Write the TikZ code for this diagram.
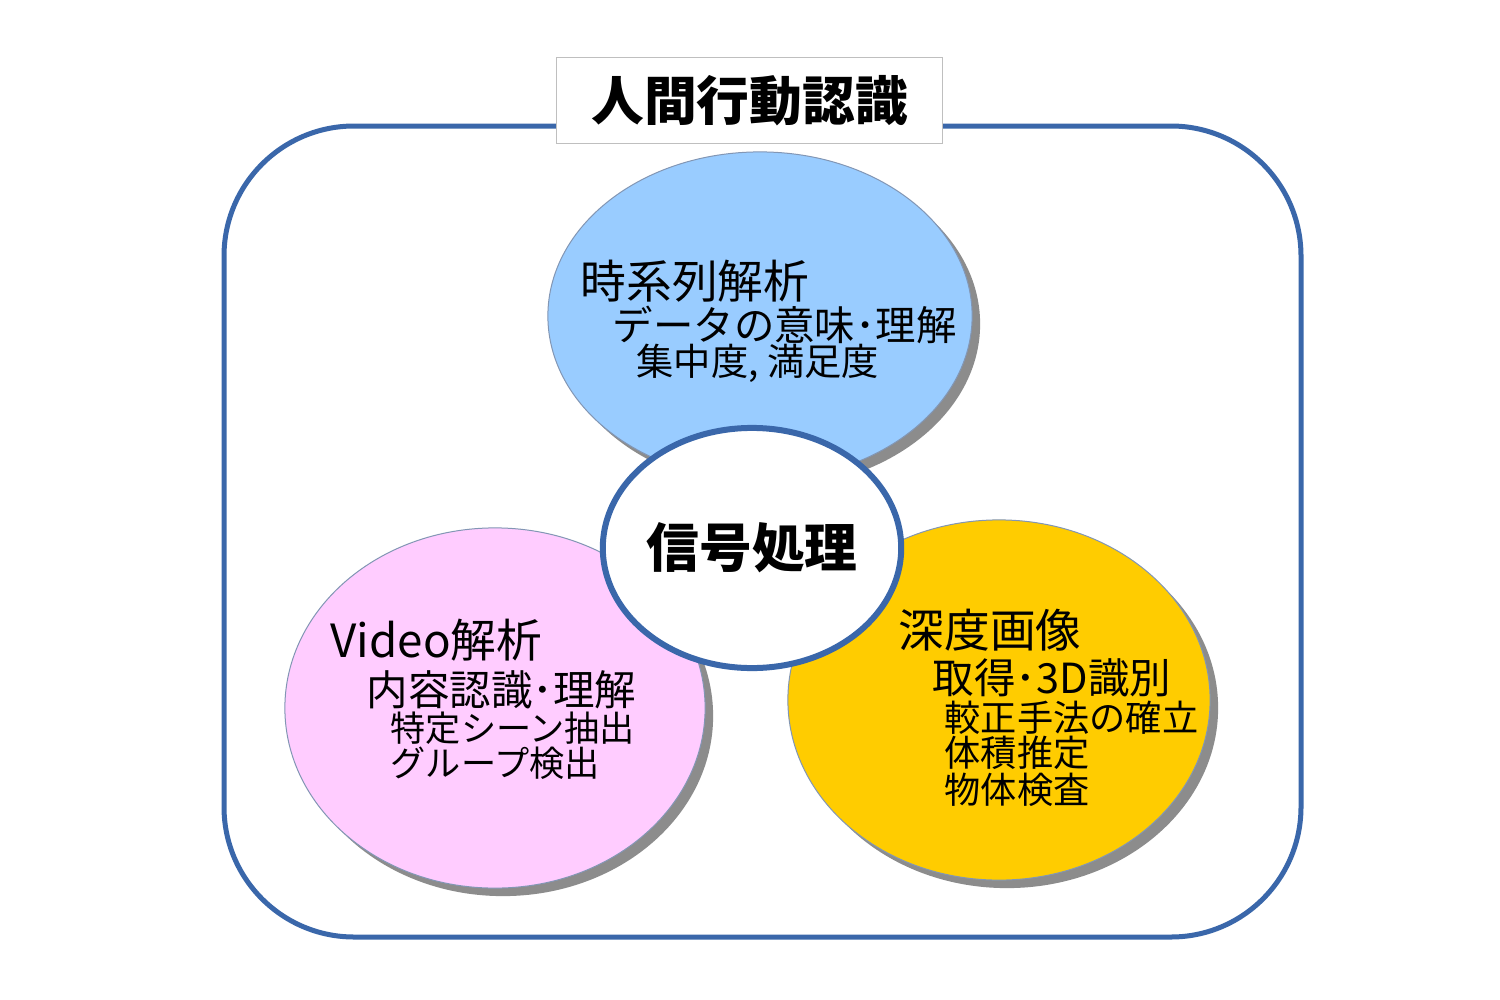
\documentclass[tikz,border=0pt]{standalone}
\usepackage{fontspec}
\newfontfamily\jp{Noto Sans CJK JP}
\usetikzlibrary{shapes.geometric,shadows}
\definecolor{frameblue}{RGB}{58,103,170}
\definecolor{rimgray}{RGB}{130,150,180}
\definecolor{cblue}{RGB}{153,204,255}
\definecolor{cpink}{RGB}{255,204,255}
\definecolor{cyellow}{RGB}{255,204,0}
\tikzset{
  bubble/.style={ellipse, draw=rimgray, line width=0.01cm, inner sep=0pt,
    drop shadow={shadow xshift=0.08cm, shadow yshift=-0.08cm, fill=black!45, opacity=1}},
  txt/.style={anchor=west, inner sep=0pt, font=\jp},
}
\begin{document}
\begin{tikzpicture}[x=0.01cm,y=-0.01cm]
\useasboundingbox (0,0) rectangle (1500,1000);
\fill[white] (0,0) rectangle (1500,1000);
% outer frame
\draw[frameblue, line width=0.05cm, rounded corners=1.3cm] (224,126) rectangle (1301,937);
% title
\node[draw=black!25, fill=white, line width=0.01cm, minimum width=3.85cm, minimum height=0.85cm, inner sep=0pt,
  font=\jp\bfseries\fontsize{15}{18}\selectfont] (title) at (749.5,100.5) {人間行動認識};
% bubbles
\node[bubble, fill=cblue, minimum width=4.24cm, minimum height=3.28cm] (tsa) at (760,316) {};
\node[bubble, fill=cpink, minimum width=4.2cm, minimum height=3.6cm] (vid) at (495,708) {};
\node[bubble, fill=cyellow, minimum width=4.22cm, minimum height=3.6cm] (dep) at (999,700) {};
% centre
\node[ellipse, draw=frameblue, fill=white, line width=0.06cm, minimum width=2.84cm, minimum height=2.4cm, inner sep=0pt,
  font=\jp\bfseries\fontsize{15}{18}\selectfont] (sig) at (752,548) {信号処理};
% blue texts
\node[txt, font=\jp\fontsize{13}{15}\selectfont] (t1) at (580,281) {時系列解析};
\node[txt, font=\jp\fontsize{11.5}{14}\selectfont] (t2) at (612,325) {データの意味･理解};
\node[txt, font=\jp\fontsize{10.6}{13}\selectfont] (t3) at (636,363) {集中度, 満足度};
% pink texts
\node[txt, font=\jp\fontsize{13}{15}\selectfont] (v1) at (330,640) {Video解析};
\node[txt, font=\jp\fontsize{11.8}{14}\selectfont] (v2) at (366,690) {内容認識･理解};
\node[txt, font=\jp\fontsize{10}{12}\selectfont] (v3) at (390,728) {特定シーン抽出};
\node[txt, font=\jp\fontsize{10}{12}\selectfont] (v4) at (390,763) {グループ検出};
% yellow texts
\node[txt, font=\jp\fontsize{13}{15}\selectfont] (d1) at (898,630) {深度画像};
\node[txt, font=\jp\fontsize{11.8}{14}\selectfont] (d2) at (932,678) {取得･3D識別};
\node[txt, font=\jp\fontsize{10.3}{12}\selectfont] (d3) at (944,718) {較正手法の確立};
\node[txt, font=\jp\fontsize{10.3}{12}\selectfont] (d4) at (944,753) {体積推定};
\node[txt, font=\jp\fontsize{10.3}{12}\selectfont] (d5) at (944,790) {物体検査};
\end{tikzpicture}
\end{document}
